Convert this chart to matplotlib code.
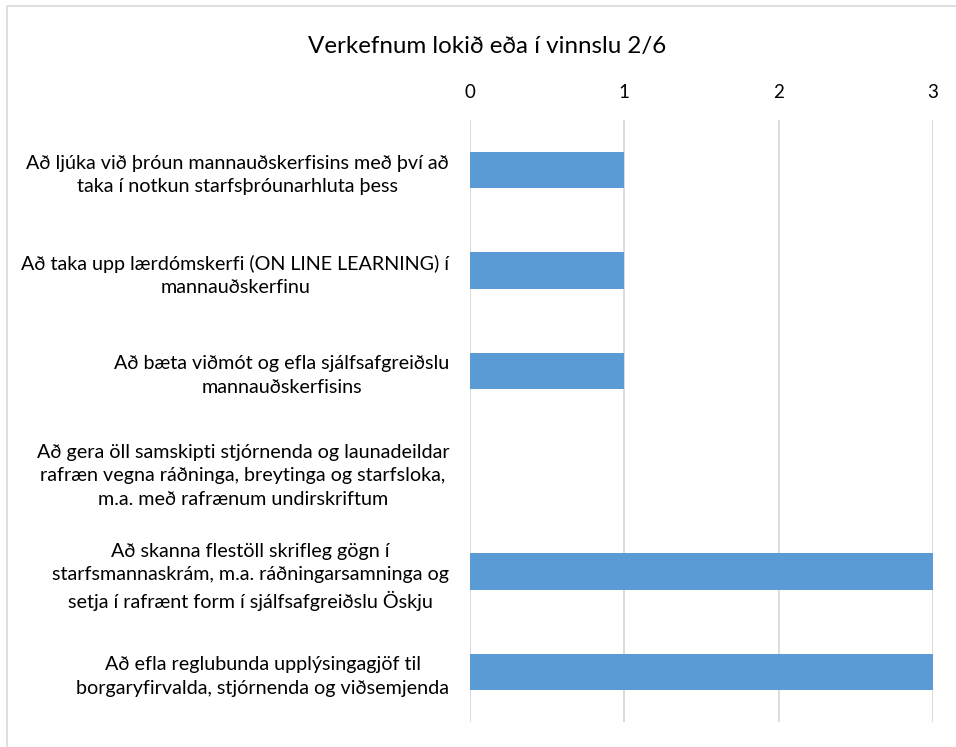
import matplotlib
matplotlib.use("Agg")
import matplotlib.pyplot as plt
from matplotlib.patches import Rectangle

title = "Verkefnum lokið eða í vinnslu 2/6"
categories = [
    "Að ljúka við þróun mannauðskerfisins með því að\ntaka í notkun starfsþróunarhluta þess",
    "Að taka upp lærdómskerfi (ON LINE LEARNING) í\nmannauðskerfinu",
    "Að bæta viðmót og efla sjálfsafgreiðslu\nmannauðskerfisins",
    "Að gera öll samskipti stjórnenda og launadeildar\nrafræn vegna ráðninga, breytinga og starfsloka,\nm.a. með rafrænum undirskriftum",
    "Að skanna flestöll skrifleg gögn í\nstarfsmannaskrám, m.a. ráðningarsamninga og\nsetja í rafrænt form í sjálfsafgreiðslu Öskju",
    "Að efla reglubunda upplýsingagjöf til\nborgaryfirvalda, stjórnenda og viðsemjenda",
]
values = [1, 1, 1, 0, 3, 3]
xticks = [0, 1, 2, 3]

plt.rcParams['font.family'] = ['Lato', 'DejaVu Sans']

fig = plt.figure(figsize=(9.56, 7.47), dpi=100)
ax = fig.add_axes([470/956, 1 - 722/747, (933-470)/956, (722-120)/747])

pos = list(range(len(categories)))
ax.barh(pos, values, height=0.36, color="#5B9BD5", zorder=3)
ax.set_ylim(len(categories) - 0.5, -0.5)
ax.set_xlim(0, 3)
ax.set_xticks(xticks)
ax.xaxis.tick_top()
ax.tick_params(axis='x', length=0, pad=14, labelsize=13.5, colors="#000000")
ax.set_yticks(pos)
ax.set_yticklabels(categories, multialignment='center', fontsize=14.2, linespacing=1.45)
ax.tick_params(axis='y', length=0, pad=15)
ax.grid(axis='x', color="#D9D9D9", linewidth=1.3, zorder=0)
for s in ax.spines.values():
    s.set_visible(False)

fig.text(487/956, 1 - 47/747, title, ha='center', va='center', fontsize=17.4)

fig.patches.append(Rectangle((7/956, -0.1), 1.1, 1 - 6/747 + 0.1, transform=fig.transFigure,
                             fill=False, edgecolor="#D9D9D9", linewidth=1.2))

fig.savefig("out.png", dpi=100)
